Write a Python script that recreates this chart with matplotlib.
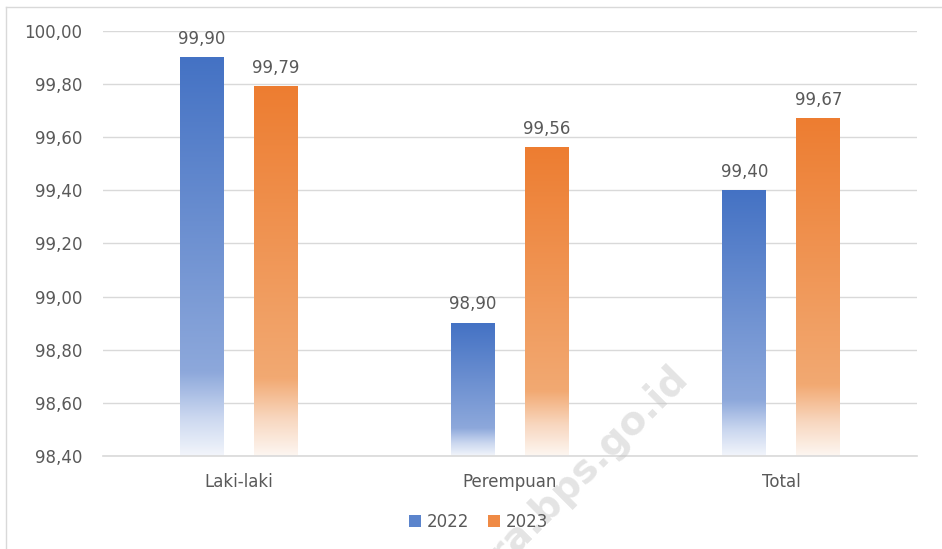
import numpy as np
import matplotlib.pyplot as plt
from matplotlib.colors import LinearSegmentedColormap
from matplotlib.patches import Patch
from matplotlib.lines import Line2D

plt.rcParams['font.family'] = ['DejaVu Sans']

# data
categories = ['Laki-laki', 'Perempuan', 'Total']
years = ['2022', '2023']
val_2022 = [99.90, 98.90, 99.40]
val_2023 = [99.79, 99.56, 99.67]
y_ticks = [98.40, 98.60, 98.80, 99.00, 99.20, 99.40, 99.60, 99.80, 100.00]

ymin, ymax = 98.4, 100.0
text_col = '#595959'
grid_col = '#D9D9D9'
fs = 12

# gradient: bottom (0) -> top (1)
cmap_blue = LinearSegmentedColormap.from_list('b', [
    (0.0, '#F2F5FB'), (0.10, '#C9D6EF'), (0.21, '#8DA8DB'), (1.0, '#4472C4')])
cmap_orange = LinearSegmentedColormap.from_list('o', [
    (0.0, '#FDF6F1'), (0.10, '#F8D7BF'), (0.21, '#F2A972'), (1.0, '#ED7D31')])

fig = plt.figure(figsize=(9.42, 5.49), dpi=100)
ax = fig.add_axes([103/942, 1-456/549, (917-103)/942, (456-31)/549])
ax.set_facecolor('none')

x = np.arange(len(categories))
width = 0.162
offset = 0.136
grad = np.linspace(0, 1, 256).reshape(-1, 1)

for vals, cmap, off in [(val_2022, cmap_blue, -offset), (val_2023, cmap_orange, offset)]:
    for xi, v in zip(x, vals):
        x0 = xi + off - width / 2
        ax.imshow(grad, cmap=cmap, origin='lower', aspect='auto',
                  extent=(x0, x0 + width, ymin, v), zorder=2, interpolation='bilinear')
        ax.annotate(f'{v:.2f}'.replace('.', ','), (xi + off, v),
                    xytext=(0, 7), textcoords='offset points',
                    ha='center', va='bottom', fontsize=fs, color=text_col, zorder=3)

ax.set_xlim(-0.5, len(categories) - 0.5)
ax.set_ylim(ymin, ymax)
ax.set_yticks(y_ticks)
ax.set_yticklabels([f'{t:.2f}'.replace('.', ',') for t in y_ticks])
ax.set_xticks(x)
ax.set_xticklabels(categories)
ax.tick_params(axis='both', length=0, labelsize=fs, labelcolor=text_col)
ax.tick_params(axis='y', pad=15)
ax.tick_params(axis='x', pad=12)
ax.grid(axis='y', color=grid_col, linewidth=1, zorder=0)
ax.set_axisbelow(True)
for s in ['top', 'right', 'left']:
    ax.spines[s].set_visible(False)
ax.spines['bottom'].set_color(grid_col)
ax.spines['bottom'].set_linewidth(1.2)

handles = [Patch(facecolor='#5B84CC', edgecolor='none'),
           Patch(facecolor='#EF8A45', edgecolor='none')]
leg = fig.legend(handles, years, loc='center', bbox_to_anchor=(0.508, 0.049), ncol=2,
                 frameon=False, fontsize=fs, labelcolor=text_col,
                 handlelength=0.75, handleheight=0.75, handletextpad=0.35, columnspacing=1.1)
leg.set_zorder(6)

# watermark
fig.text(690/942, 1-379/549, 'kaltara.bps.go.id', rotation=45, rotation_mode='anchor',
         ha='right', va='baseline', fontsize=28, fontweight='bold', color='#C4C4C4',
         alpha=0.45, zorder=4)

# outer border
fig.add_artist(Line2D([6/942, 1], [1-7/549, 1-7/549], color=grid_col, linewidth=1))
fig.add_artist(Line2D([6/942, 6/942], [0, 1-7/549], color=grid_col, linewidth=1))

fig.savefig('out.png', dpi=100)
